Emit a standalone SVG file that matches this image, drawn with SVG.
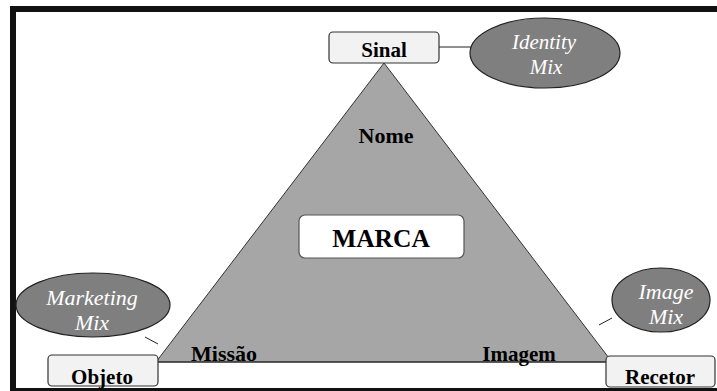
<svg xmlns="http://www.w3.org/2000/svg" width="717" height="391" viewBox="0 0 717 391">
  <style>
    text { font-family: 'Liberation Serif', 'DejaVu Serif', serif; }
    .box { fill: #f2f2f2; stroke: #333; stroke-width: 1.2; }
    .mix { fill: #7f7f7f; stroke: #222; stroke-width: 1.2; }
    .lbl { font-weight: bold; font-size: 21px; fill: #000; text-anchor: middle; }
    .mixt { font-style: italic; font-size: 22px; fill: #fff; text-anchor: middle; }
    .link { stroke: #222; stroke-width: 1; fill: none; }
  </style>
  <rect width="717" height="391" fill="#fff"/>
  <!-- outer frame -->
  <path d="M13 394 V9 H720 M13 391 H720" fill="none" stroke="#111" stroke-width="6"/>

  <!-- brand triangle -->
  <g id="triangle">
    <polygon points="384,63 156,362 612,362" fill="#a6a6a6" stroke="#333" stroke-width="1"/>
    <text class="lbl" x="386" y="143" style="font-size:22px">Nome</text>
    <text class="lbl" x="224" y="361" style="font-size:22px">Missão</text>
    <text class="lbl" x="519" y="361">Imagem</text>
  </g>

  <g id="connectors">
    <line class="link" x1="158" y1="362" x2="606" y2="362" stroke-width="1.2"/>
    <line class="link" x1="439" y1="47" x2="471" y2="47"/>
    <line class="link" x1="145" y1="337" x2="158" y2="344"/>
    <line class="link" x1="599" y1="325" x2="612" y2="318"/>
  </g>

  <g id="marca">
    <rect x="299" y="215" width="165" height="43" rx="6" fill="#fff" stroke="#555" stroke-width="1.2"/>
    <text class="lbl" x="381" y="247" style="font-size:25.5px">MARCA</text>
  </g>

  <g id="sinal">
    <rect class="box" x="329" y="32" width="110" height="31" rx="4"/>
    <text class="lbl" x="384" y="57">Sinal</text>
  </g>

  <g id="objeto">
    <rect class="box" x="48" y="355" width="110" height="31" rx="4"/>
    <text class="lbl" x="102" y="384">Objeto</text>
  </g>

  <g id="recetor">
    <rect class="box" x="606" y="356" width="109" height="31" rx="4"/>
    <text class="lbl" x="660" y="384">Recetor</text>
  </g>

  <g id="identity-mix">
    <ellipse class="mix" cx="545" cy="53" rx="75" ry="35"/>
    <text class="mixt" x="544" y="49" style="font-size:21px">Identity</text>
    <text class="mixt" x="546" y="74" style="font-size:21px">Mix</text>
  </g>

  <g id="marketing-mix">
    <ellipse class="mix" cx="93" cy="305" rx="77" ry="32"/>
    <text class="mixt" x="92" y="305">Marketing</text>
    <text class="mixt" x="92" y="330">Mix</text>
  </g>

  <g id="image-mix">
    <ellipse class="mix" cx="661" cy="300" rx="49" ry="32"/>
    <text class="mixt" x="666" y="299">Image</text>
    <text class="mixt" x="666" y="324">Mix</text>
  </g>
</svg>
